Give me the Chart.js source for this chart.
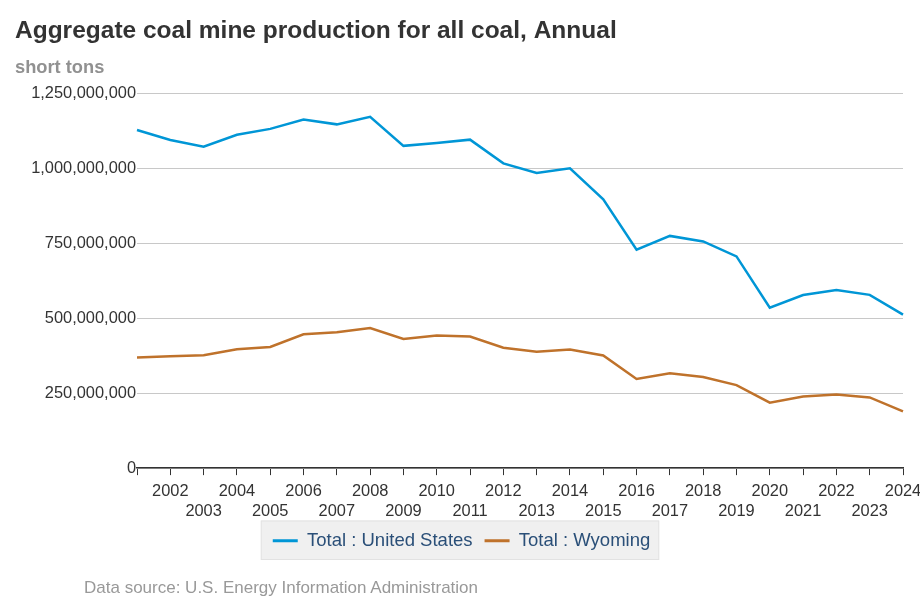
<!DOCTYPE html>
<html>
<head>
<meta charset="utf-8">
<script src="https://cdn.jsdelivr.net/npm/chart.js@4.4.1/dist/chart.umd.min.js"></script>
<style>
    body { margin: 0; background: #fff; font-family: "Liberation Sans", Arial, sans-serif; }
    #wrap { position: relative; width: 920px; height: 613px; }
    #source { position: absolute; left: 84px; top: 578px; font-size: 17px; color: #999; }
</style>
</head>
<body>
<div id="wrap">
    <canvas id="chart" width="920" height="613"></canvas>
    <div id="source">Data source: U.S. Energy Information Administration</div>
</div>
<script>
var years = ["2001", "2002", "2003", "2004", "2005", "2006", "2007", "2008", "2009", "2010", "2011", "2012",
    "2013", "2014", "2015", "2016", "2017", "2018", "2019", "2020", "2021", "2022", "2023", "2024"];

var unitedStates = [1127700000, 1094300000, 1071800000, 1112100000, 1131500000, 1162700000, 1146600000,
    1171800000, 1074900000, 1084400000, 1095600000, 1016500000, 984800000, 1000000000, 896900000,
    728400000, 774600000, 756200000, 706300000, 535400000, 577400000, 594200000, 577900000, 512000000];

var wyoming = [368700000, 373200000, 376300000, 396500000, 404300000, 446700000, 453600000, 467600000,
    431100000, 442500000, 438700000, 401400000, 387900000, 395700000, 375800000, 297200000, 316500000,
    304200000, 276900000, 218500000, 239000000, 245400000, 236000000, 189000000];

var yTicks = [0, 250000000, 500000000, 750000000, 1000000000, 1250000000];

// grey panel behind the legend, and nudge the legend up and a bit left
var legendBox = {
    id: "legendBox",
    afterLayout: function (chart) {
        var lg = chart.legend;
        lg.left -= 6;
        lg.right -= 6;
        lg.top -= 9;
        lg.bottom -= 9;
    },
    beforeDraw: function (chart) {
        var boxes = chart.legend.legendHitBoxes;
        if (!boxes || !boxes.length) return;
        var left = boxes[0].left, right = 0, top = boxes[0].top, bottom = 0;
        boxes.forEach(function (b) {
            left = Math.min(left, b.left);
            right = Math.max(right, b.left + b.width);
            top = Math.min(top, b.top);
            bottom = Math.max(bottom, b.top + b.height);
        });
        var c = chart.ctx;
        c.save();
        c.fillStyle = "#f0f0f0";
        c.strokeStyle = "#e2e2e2";
        c.lineWidth = 1;
        c.fillRect(left - 12, top - 11, right - left + 21, bottom - top + 21);
        c.strokeRect(left - 11.5, top - 10.5, right - left + 20, bottom - top + 20);
        c.restore();
    }
};

var ctx = document.getElementById("chart").getContext("2d");
var myChart = new Chart(ctx, {
    type: "line",
    data: {
        labels: years,
        datasets: [
            {
                label: "Total : United States",
                data: unitedStates,
                borderColor: "#0096d6",
                backgroundColor: "#0096d6",
                borderWidth: 2.5,
                pointRadius: 0,
                tension: 0
            },
            {
                label: "Total : Wyoming",
                data: wyoming,
                borderColor: "#bf722b",
                backgroundColor: "#bf722b",
                borderWidth: 2.5,
                pointRadius: 0,
                tension: 0
            }
        ]
    },
    plugins: [legendBox],
    options: {
        responsive: false,
        animation: false,
        layout: {
            padding: { left: 15, right: 0, top: 0, bottom: 44 }
        },
        plugins: {
            title: {
                display: true,
                text: "Aggregate coal mine production for all coal, Annual",
                align: "start",
                color: "#333",
                font: { family: "Liberation Sans", size: 24.5, weight: "bold" },
                padding: { top: 17, bottom: 11 }
            },
            subtitle: {
                display: true,
                text: "short tons",
                align: "start",
                color: "#919191",
                font: { family: "Liberation Sans", size: 18.3, weight: "bold" },
                padding: { top: 0, bottom: 14 }
            },
            legend: {
                position: "bottom",
                labels: {
                    color: "#2a4f78",
                    font: { family: "Liberation Sans", size: 18.5 },
                    boxWidth: 25,
                    boxHeight: 3,
                    padding: 12,
                    generateLabels: function (chart) {
                        var items = Chart.defaults.plugins.legend.labels.generateLabels(chart);
                        items.forEach(function (it) { it.lineWidth = 0; });
                        return items;
                    }
                }
            },
            tooltip: { enabled: false }
        },
        scales: {
            x: {
                afterFit: function (scale) {
                    scale.paddingRight = 17;
                },
                grid: {
                    display: true,
                    drawOnChartArea: false,
                    drawTicks: true,
                    tickLength: 7,
                    color: "#333"
                },
                border: { display: true, color: "#333", width: 1.5 },
                ticks: {
                    color: "#333",
                    font: { family: "Liberation Sans", size: 16.4 },
                    maxRotation: 0,
                    autoSkip: false,
                    padding: 7,
                    callback: function (value, index) {
                        var y = years[index];
                        if (index === 0) return "";
                        return index % 2 === 1 ? [y, ""] : ["", y];
                    }
                }
            },
            y: {
                min: 0,
                max: 1250000000,
                afterBuildTicks: function (scale) {
                    scale.ticks = yTicks.map(function (v) { return { value: v }; });
                },
                afterFit: function (scale) {
                    scale.width = 122;
                },
                grid: {
                    color: "#c8c8c8",
                    drawTicks: false
                },
                border: { display: false },
                ticks: {
                    color: "#333",
                    padding: 1,
                    font: { family: "Liberation Sans", size: 16.4 },
                    callback: function (value) {
                        return value.toLocaleString("en-US");
                    }
                }
            }
        }
    }
});
</script>
</body>
</html>
